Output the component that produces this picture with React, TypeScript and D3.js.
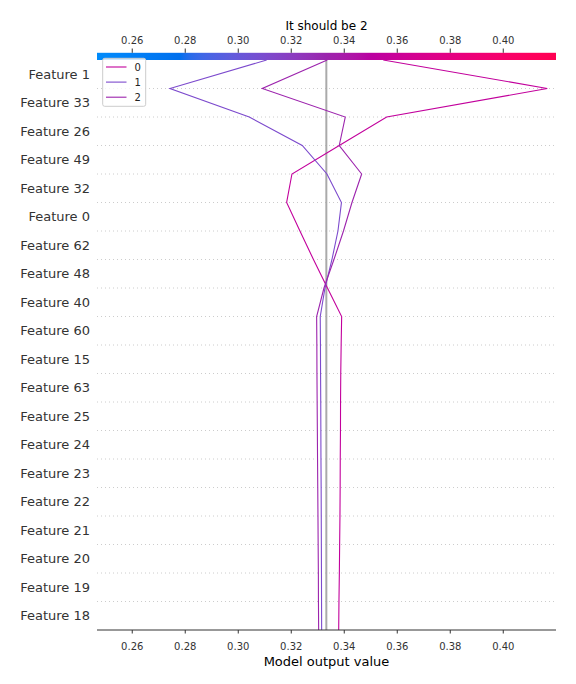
import React from "react";
import * as d3 from "d3";

// Feature order, top to bottom
const features = [
  "Feature 1", "Feature 33", "Feature 26", "Feature 49", "Feature 32",
  "Feature 0", "Feature 62", "Feature 48", "Feature 40", "Feature 60",
  "Feature 15", "Feature 63", "Feature 25", "Feature 24", "Feature 23",
  "Feature 22", "Feature 21", "Feature 20", "Feature 19", "Feature 18",
];

// Cumulative model output at each row boundary, from the bottom (base value) to the top (final output)
const class0 = [
  0.3379, 0.3380, 0.33815, 0.33826, 0.33838, 0.33845, 0.33849, 0.33857, 0.3386, 0.33868,
  0.33883, 0.33902, 0.33366, 0.32838, 0.32328, 0.31826, 0.32026, 0.33811, 0.356, 0.4166, 0.35472,
];
const class1 = [
  0.33147, 0.33143, 0.3314, 0.33136, 0.33132, 0.33128, 0.33121, 0.33117, 0.33113, 0.33106,
  0.33102, 0.33094, 0.33272, 0.33536, 0.33762, 0.33894, 0.33347, 0.32415, 0.30415, 0.27423, 0.31072,
];
const class2 = [
  0.33034, 0.33026, 0.33023, 0.33015, 0.33008, 0.33, 0.32992, 0.32985, 0.32977, 0.3297,
  0.32966, 0.32958, 0.33234, 0.33611, 0.3397, 0.34291, 0.34657, 0.33811, 0.34038, 0.30906, 0.33358,
];
const classLabels = ["0", "1", "2"];
const xTicks = [0.26, 0.28, 0.3, 0.32, 0.34, 0.36, 0.38, 0.4];
const xDomain = [0.2467, 0.4199];
const title = "It should be 2";
const xLabel = "Model output value";

// shap red_blue colormap (interpolated in LCh)
function lab2rgb(L: number, a: number, b: number): string {
  const fy = (L + 16) / 116;
  const fx = fy + a / 500;
  const fz = fy - b / 200;
  const d = 6 / 29;
  const finv = (t: number) => (t > d ? t * t * t : 3 * d * d * (t - 4 / 29));
  const X = 0.95047 * finv(fx);
  const Y = 1.0 * finv(fy);
  const Z = 1.08883 * finv(fz);
  let r = 3.2406 * X - 1.5372 * Y - 0.4986 * Z;
  let g = -0.9689 * X + 1.8758 * Y + 0.0415 * Z;
  let bb = 0.0557 * X - 0.204 * Y + 1.057 * Z;
  const gam = (c: number) => {
    const v = c <= 0.0031308 ? 12.92 * c : 1.055 * Math.pow(Math.max(c, 0), 1 / 2.4) - 0.055;
    return Math.round(Math.min(1, Math.max(0, v)) * 255);
  };
  return d3.rgb(gam(r), gam(g), gam(bb)).formatHex();
}
function redBlue(t: number): string {
  t = Math.min(1, Math.max(0, t));
  const L = t <= 0.5 ? 54 - 28 * t : 40 + 28 * (t - 0.5);
  const C = 70 + 20 * t;
  const H = 4.6588 + (0.35470565 + 2 * Math.PI - 4.6588) * t;
  return lab2rgb(L, C * Math.cos(H), C * Math.sin(H));
}

export default function App() {
  const W = 576, H = 684;
  const left = 97, right = 556, top = 60, bottom = 630;
  const n = features.length;
  const x = d3.scaleLinear().domain(xDomain).range([left, right]);
  const y = d3.scaleLinear().domain([0, n]).range([bottom, top]);
  const series = [class0, class1, class2];
  const baseValue = d3.mean(series.map((s) => s[0])) as number;
  const colorOf = (v: number) => redBlue((v - xDomain[0]) / (xDomain[1] - xDomain[0]));
  const line = d3
    .line<number>()
    .x((d) => x(d))
    .y((_, i) => y(i));
  const font = "DejaVu Sans, sans-serif";
  const stops = d3.range(0, 101).map((i) => i / 100);
  const gridKs = d3.range(1, n);

  return (
    <svg
      width={W}
      height={H}
      style={{ position: "absolute", left: 0, top: 0, background: "#fff" }}
      fontFamily={font}
    >
      <defs>
        <linearGradient id="cb" x1="0" x2="1" y1="0" y2="0">
          {stops.map((t) => (
            <stop key={t} offset={t} stopColor={redBlue(t)} />
          ))}
        </linearGradient>
      </defs>
      <rect x={0} y={0} width={W} height={H} fill="#fff" />

      {/* gridlines */}
      {gridKs.map((k) => (
        <line
          key={k}
          x1={left}
          x2={right}
          y1={y(k)}
          y2={y(k)}
          stroke="#cccccc"
          strokeWidth={1}
          strokeDasharray="1,3"
        />
      ))}

      {/* base value line */}
      <line x1={x(baseValue)} x2={x(baseValue)} y1={top} y2={bottom} stroke="#aaaaaa" strokeWidth={2} />

      {/* decision lines */}
      {series.map((s, i) => (
        <path key={i} d={line(s) || ""} fill="none" stroke={colorOf(s[s.length - 1])} strokeWidth={1.1} />
      ))}

      {/* feature labels */}
      {features.map((f, i) => (
        <text
          key={f}
          x={90}
          y={y(n - i - 0.5)}
          textAnchor="end"
          dominantBaseline="central"
          fontSize={13}
          fill="#333333"
        >
          {f}
        </text>
      ))}

      {/* colorbar */}
      <rect x={left} y={52.8} width={right - left} height={top - 52.8} fill="url(#cb)" />
      {xTicks.map((t) => (
        <g key={"t" + t}>
          <line x1={x(t)} x2={x(t)} y1={48.5} y2={52.8} stroke="#333333" strokeWidth={1} />
          <text x={x(t)} y={44} textAnchor="middle" fontSize={10} fill="#333333">
            {t.toFixed(2)}
          </text>
        </g>
      ))}
      <text x={(left + right) / 2} y={30} textAnchor="middle" fontSize={12} fill="#000">
        {title}
      </text>

      {/* bottom axis */}
      <line x1={left} x2={right} y1={bottom} y2={bottom} stroke="#333333" strokeWidth={1} />
      {xTicks.map((t) => (
        <g key={"b" + t}>
          <line x1={x(t)} x2={x(t)} y1={bottom} y2={bottom + 3.5} stroke="#333333" strokeWidth={1} />
          <text x={x(t)} y={649.5} textAnchor="middle" fontSize={10} fill="#333333">
            {t.toFixed(2)}
          </text>
        </g>
      ))}
      <text x={(left + right) / 2} y={666} textAnchor="middle" fontSize={13} fill="#000">
        {xLabel}
      </text>

      {/* legend */}
      <rect x={102.7} y={58.3} width={43} height={48} rx={2} fill="#fff" fillOpacity={0.8} stroke="#cccccc" strokeWidth={1} />
      {classLabels.map((c, i) => (
        <g key={"l" + c}>
          <line
            x1={106}
            x2={126.5}
            y1={67 + i * 15.1}
            y2={67 + i * 15.1}
            stroke={colorOf(series[i][series[i].length - 1])}
            strokeWidth={1.1}
          />
          <text x={134.5} y={67 + i * 15.1} dominantBaseline="central" fontSize={10} fill="#222">
            {c}
          </text>
        </g>
      ))}
    </svg>
  );
}
